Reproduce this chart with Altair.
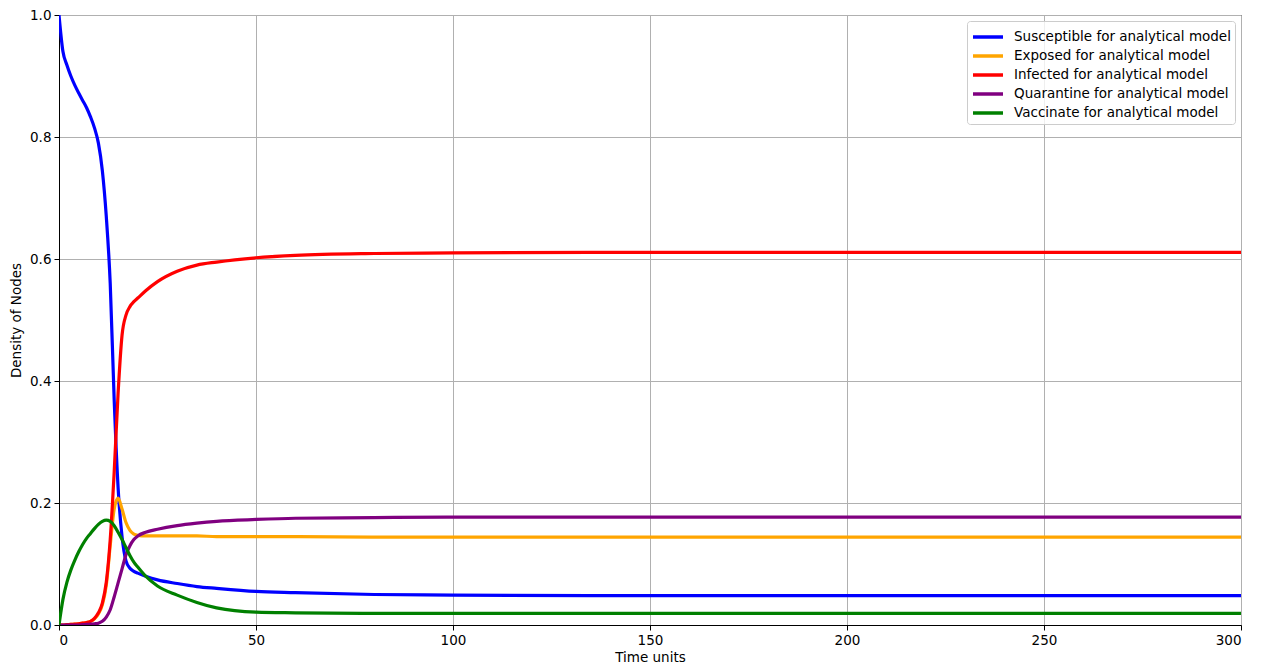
import altair as alt
import pandas as pd

t = [0, 1, 2, 3, 4, 5, 6, 7, 8, 9, 10, 11, 12, 13, 14, 15, 16, 17, 18, 19, 20,
     22, 25, 30, 35, 40, 50, 60, 80, 100, 150, 200, 300]

susceptible = [1.0, 0.94, 0.918, 0.9, 0.885, 0.872, 0.86, 0.848, 0.833, 0.815, 0.79,
               0.745, 0.67, 0.56, 0.37, 0.225, 0.145, 0.105, 0.093, 0.088, 0.085,
               0.08, 0.074, 0.068, 0.063, 0.06, 0.055, 0.053, 0.05, 0.049, 0.048, 0.048, 0.048]
exposed = [0.0, 0.0, 0.0005, 0.001, 0.0015, 0.002, 0.003, 0.004, 0.006, 0.01, 0.018,
           0.033, 0.065, 0.13, 0.19, 0.208, 0.19, 0.168, 0.155, 0.149, 0.147,
           0.146, 0.146, 0.146, 0.146, 0.145, 0.145, 0.145, 0.144, 0.144, 0.144, 0.144, 0.144]
infected = [0.0, 0.0, 0.0005, 0.001, 0.0015, 0.002, 0.003, 0.004, 0.006, 0.011, 0.02,
            0.036, 0.07, 0.14, 0.25, 0.38, 0.475, 0.508, 0.522, 0.53, 0.536,
            0.548, 0.563, 0.58, 0.59, 0.595, 0.602, 0.606, 0.609, 0.61, 0.611, 0.611, 0.611]
quarantine = [0.0, 0.0, 0.0, 0.0, 0.0, 0.0, 0.0005, 0.001, 0.0015, 0.002, 0.003,
              0.006, 0.013, 0.025, 0.046, 0.069, 0.092, 0.115, 0.13, 0.14, 0.146,
              0.152, 0.157, 0.163, 0.167, 0.17, 0.173, 0.175, 0.176, 0.177, 0.177, 0.177, 0.177]
vaccinate = [0.0, 0.042, 0.07, 0.09, 0.106, 0.12, 0.132, 0.142, 0.15, 0.158, 0.165,
             0.17, 0.172, 0.17, 0.163, 0.152, 0.14, 0.127, 0.114, 0.103, 0.095,
             0.08, 0.064, 0.049, 0.037, 0.028, 0.021, 0.02, 0.019, 0.019, 0.019, 0.019, 0.019]

series_names = ["Susceptible for analytical model", "Exposed for analytical model",
                "Infected for analytical model", "Quarantine for analytical model",
                "Vaccinate for analytical model"]
series_values = [susceptible, exposed, infected, quarantine, vaccinate]
colors = ["#0000ff", "#ffa500", "#ff0000", "#800080", "#008000"]

rows = []
for name, vals in zip(series_names, series_values):
    for ti, v in zip(t, vals):
        rows.append({"t": ti, "v": v, "series": name})
df = pd.DataFrame(rows)

font = "DejaVu Sans"
fs = 13.5

chart = alt.Chart(df).mark_line(strokeWidth=3.2, interpolate="monotone", clip=True).encode(
    x=alt.X("t:Q", title="Time units",
            scale=alt.Scale(domain=[0, 300], nice=False, zero=False),
            axis=alt.Axis(values=[0, 50, 100, 150, 200, 250, 300], format="d",
                          tickSize=5, tickColor="black", domainColor="black",
                          gridColor="#b0b0b0", labelPadding=3, titlePadding=4)),
    y=alt.Y("v:Q", title="Density of Nodes",
            scale=alt.Scale(domain=[0, 1], nice=False),
            axis=alt.Axis(values=[0, 0.2, 0.4, 0.6, 0.8, 1.0], format=".1f",
                          tickSize=5, tickColor="black", domainColor="black",
                          gridColor="#b0b0b0", labelPadding=3, titlePadding=6)),
    color=alt.Color("series:N",
                    scale=alt.Scale(domain=series_names, range=colors),
                    sort=series_names,
                    legend=alt.Legend(title=None, orient="top-right", offset=6,
                                      padding=4, strokeColor="#cccccc",
                                      fillColor="rgba(255,255,255,0.8)", cornerRadius=3,
                                      symbolType="M-1,0H2", symbolSize=400,
                                      symbolStrokeWidth=3.5, rowPadding=0,
                                      labelOffset=19,
                                      labelFontSize=fs, labelFont=font,
                                      labelColor="black", labelLimit=400)),
).properties(
    width=1182, height=610,
    padding={"left": 1, "top": 0, "right": 5, "bottom": 0},
).configure_axis(
    labelFont=font, titleFont=font, labelFontSize=fs, titleFontSize=fs,
    titleFontWeight="normal", labelColor="black", titleColor="black",
    gridWidth=1,
).configure_view(stroke="black", strokeWidth=1)

chart.save("out.html", embed_options={"renderer": "svg", "actions": False})
